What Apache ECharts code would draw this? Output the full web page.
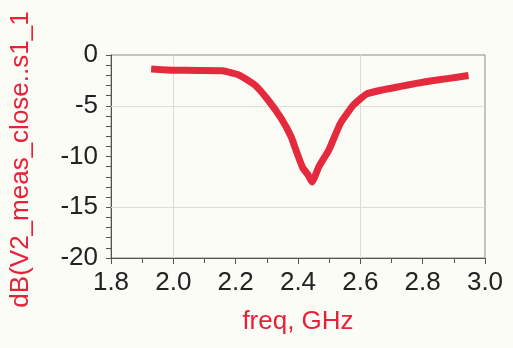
<!DOCTYPE html>
<html>
<head>
<meta charset="utf-8">
<script src="https://cdn.jsdelivr.net/npm/echarts@6/dist/echarts.min.js"></script>
<style>
  html, body { margin: 0; padding: 0; background: #fcfcf6; }
  #chart { width: 513px; height: 348px; }
</style>
</head>
<body>
<div id="chart"></div>
<script>
// values
const freq = [1.94, 2.0, 2.08, 2.157, 2.21, 2.262, 2.304, 2.346, 2.378, 2.395, 2.415, 2.432, 2.445, 2.467, 2.499, 2.536, 2.578, 2.62, 2.67, 2.725, 2.78, 2.83, 2.885, 2.936];
const dB = [-1.4, -1.5, -1.52, -1.55, -1.97, -2.96, -4.43, -6.24, -8.05, -9.5, -11.1, -11.8, -12.5, -11.0, -9.36, -6.73, -4.93, -3.84, -3.45, -3.12, -2.8, -2.53, -2.3, -2.07];
const xGrid = [2.0, 2.6];
const yGrid = [-5, -15];

const myChart = echarts.init(document.getElementById("chart"));

const option = {
  backgroundColor: "#fcfcf6",
  animation: false,
  grid: {
    left: 107,
    right: 28,
    top: 55,
    bottom: 90,
    show: true,
    borderColor: "#8a8a8a",
    borderWidth: 1,
  },
  xAxis: {
    type: "value",
    min: 1.8,
    max: 3.0,
    interval: 0.2,
    name: "freq, GHz",
    nameLocation: "middle",
    nameGap: 51,
    nameTextStyle: { color: "#e8203a", fontSize: 26, fontFamily: "Liberation Sans" },
    axisLine: { show: true, onZero: false, lineStyle: { color: "#555" } },
    axisTick: { show: true, inside: false, length: 6, lineStyle: { color: "#555", width: 1 } },
    minorTick: { show: true, splitNumber: 2, length: 5, lineStyle: { color: "#555", width: 1 } },
    splitLine: { show: false },
    axisLabel: {
      color: "#222",
      fontSize: 26,
      fontFamily: "Liberation Sans",
      margin: 12,
      formatter: (v) => v.toFixed(1),
    },
  },
  yAxis: {
    type: "value",
    min: -20,
    max: 0,
    interval: 5,
    name: "dB(V2_meas_close..s1_1",
    nameLocation: "middle",
    nameGap: 77,
    nameRotate: 90,
    nameTextStyle: { color: "#e8203a", fontSize: 26, fontFamily: "Liberation Sans", padding: [0, 6, 0, 0] },
    axisLine: { show: true, onZero: false, lineStyle: { color: "#555" } },
    axisTick: { show: true, inside: false, length: 5, lineStyle: { color: "#555", width: 1 } },
    minorTick: { show: true, splitNumber: 5, length: 5, lineStyle: { color: "#555", width: 1 } },
    splitLine: { show: false },
    axisLabel: {
      color: "#222",
      fontSize: 26,
      fontFamily: "Liberation Sans",
      margin: 13,
    },
  },
  series: [
    {
      type: "line",
      data: freq.map((f, i) => [f, dB[i]]),
      smooth: 0.15,
      symbol: "none",
      lineStyle: { width: 7, color: "#e62a3e", cap: "square", join: "round" },
      itemStyle: { color: "#e62a3e" },
      z: 5,
      markLine: {
        silent: true,
        symbol: "none",
        label: { show: false },
        lineStyle: { color: "#dcdcd6", width: 1, type: "solid" },
        data: xGrid.map((x) => ({ xAxis: x })).concat(yGrid.map((y) => ({ yAxis: y }))),
        z: 1,
      },
    },
  ],
};

myChart.setOption(option);
</script>
</body>
</html>
